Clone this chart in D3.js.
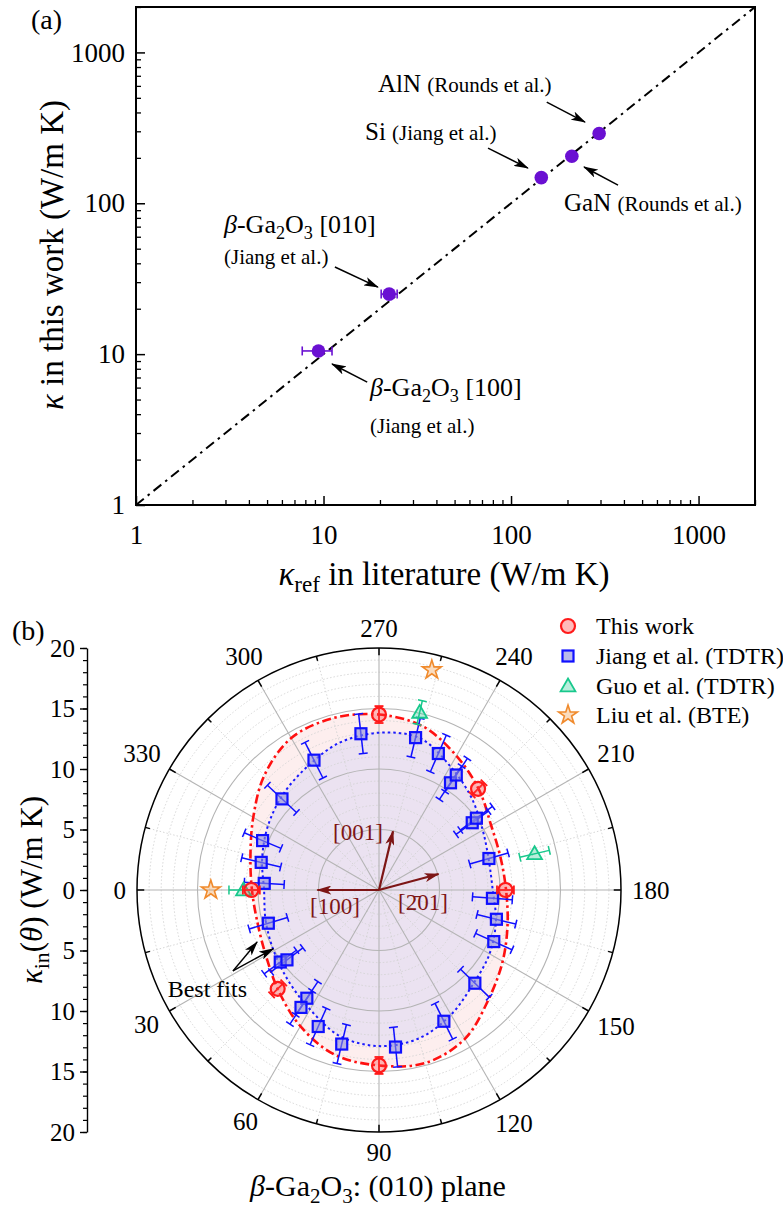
<!DOCTYPE html>
<html>
<head>
<meta charset="utf-8">
<script src="https://cdn.jsdelivr.net/npm/d3@7"></script>
<style>
  body { margin: 0; background: #fff; }
  svg text { font-family: "Liberation Serif", "Times New Roman", serif; fill: #000; }
</style>
</head>
<body>
<div id="plot"></div>
<script>
// ---------- panel (a): kappa in this work vs literature ----------
const matNames = ["b100", "b010", "Si", "GaN", "AlN"];
const kRef   = [9.4, 22.4, 145, 211, 295];
const kRefLo = [7.7, 20.3, 145, 211, 295];
const kRefHi = [11.1, 24.7, 145, 211, 295];
const kThis  = [10.5, 25, 148, 205, 290];
const logMajor = [1, 10, 100, 1000];
const parity = [1, 2000];

// ---------- panel (b): polar in-plane conductivity ----------
const angleLabels = [0, 30, 60, 90, 120, 150, 180, 210, 240, 270, 300, 330];
const radTicks = [-20, -15, -10, -5, 0, 5, 10, 15, 20];

const thisTheta = [0, 44.3, 90, 180, 225.6, 270];
const thisK     = [10.55, 11.7, 14.5, 10.45, 11.7, 14.5];
const thisErr   = [0.7, 0.7, 0.7, 0.7, 0.7, 0.7];

const jiangTheta = [276.6, 296.6, 316.8, 337, 346.8, 356.7, 16.7, 36.1, 37.2, 56.3, 56.4, 66, 76.4,
                    96, 116.3, 135.8, 155.8, 166, 175.8, 196, 215.8, 216.4, 236.3, 236.1, 246.5, 256.5];
const jiangK     = [13.0, 12.0, 11.0, 10.45, 10.0, 9.5, 9.55, 10.1, 9.55, 10.75, 11.65, 12.35, 13.1,
                    13.05, 12.1, 11.05, 10.4, 10.0, 9.4, 9.45, 9.5, 10.0, 10.65, 11.45, 12.3, 12.95];
const jiangErr   = 1.65;

const guoTheta = [0, 193.1, 257.1];
const guoK     = [11.2, 13.2, 15.05];
const guoErr   = [1.2, 1.25, 1.0];

const liuTheta = [0, 256.5];
const liuK     = [13.9, 18.7];

// best-fit curves read every 15 degrees
const fitTheta = [0, 15, 30, 45, 60, 75, 90, 105, 120, 135, 150, 165,
                  180, 195, 210, 225, 240, 255, 270, 285, 300, 315, 330, 345];
const fitRed   = [10.5, 10.4, 10.8, 11.75, 13.0, 14.1, 14.5, 14.8, 14.2, 12.8, 11.8, 11.0,
                  10.5, 10.4, 10.7, 11.7, 12.8, 14.0, 14.5, 14.7, 14.5, 13.4, 12.0, 11.0];
const fitBlue  = [9.5, 9.7, 10.05, 10.6, 11.4, 12.5, 12.9, 12.7, 11.9, 11.0, 10.55, 10.0,
                  9.4, 9.4, 9.9, 10.8, 11.8, 13.0, 13.0, 12.6, 11.8, 11.2, 10.6, 10.0];

const dirNames = ["[100]", "[001]", "[2\u030401]"];
const dirTheta = [0, 256.6, 195];
const dirLen   = [5.1, 5.0, 5.1];

const legendNames = ["This work", "Jiang et al. (TDTR)", "Guo et al. (TDTR)", "Liu et al. (BTE)"];

const W = 783, H = 1210;
const svg = d3.select("#plot").append("svg").attr("width", W).attr("height", H);

const defs = svg.append("defs");
function arrowMarker(id, color, w, h) {
  defs.append("marker").attr("id", id)
    .attr("viewBox", `0 0 ${w} ${h}`).attr("refX", w - 1).attr("refY", h / 2)
    .attr("markerWidth", w).attr("markerHeight", h)
    .attr("markerUnits", "userSpaceOnUse").attr("orient", "auto")
    .append("path")
    .attr("d", `M0,0 L${w},${h / 2} L0,${h} L${w * 0.25},${h / 2} Z`)
    .attr("fill", color);
}
arrowMarker("arrK", "#000", 15, 9);
arrowMarker("arrR", "#7d1515", 15, 9);

// text with italic / sub parts
function rich(g, x, y, size, parts, anchor) {
  const t = g.append("text").attr("x", x).attr("y", y)
    .attr("font-size", size).attr("text-anchor", anchor || "start");
  let shift = 0;
  parts.forEach(p => {
    const s = p.sub ? 0.22 * size : 0;
    const ts = t.append("tspan").text(p.t).attr("dy", s - shift);
    if (p.sub) ts.attr("font-size", size * 0.7);
    if (p.size) ts.attr("font-size", p.size);
    if (p.i) ts.attr("font-style", "italic");
    shift = s;
  });
  return t;
}

// ================= panel (a) =================
const ax = {left: 136, right: 755, top: 7, bottom: 505};
const x = d3.scaleLog().domain([1, 2000]).range([ax.left, ax.right]);
const y = d3.scaleLog().domain([1, 2000]).range([ax.bottom, ax.top]);

const ga = svg.append("g");
const logMinor = [];
[1, 10, 100, 1000].forEach(d => { for (let k = 2; k <= 9; k++) if (d * k <= 2000) logMinor.push(d * k); });

// minor ticks
ga.append("g").attr("transform", `translate(0,${ax.bottom})`)
  .call(d3.axisBottom(x).tickValues(logMinor).tickSize(-5).tickFormat("").tickSizeOuter(0))
  .call(g => g.select(".domain").remove())
  .selectAll("line").attr("stroke-width", 1.3);
ga.append("g").attr("transform", `translate(${ax.left},0)`)
  .call(d3.axisLeft(y).tickValues(logMinor).tickSize(-5).tickFormat("").tickSizeOuter(0))
  .call(g => g.select(".domain").remove())
  .selectAll("line").attr("stroke-width", 1.3);

// major ticks and labels
const xa = ga.append("g").attr("transform", `translate(0,${ax.bottom})`)
  .call(d3.axisBottom(x).tickValues(logMajor).tickSize(-9).tickPadding(20).tickFormat(d3.format("d")).tickSizeOuter(0));
const ya = ga.append("g").attr("transform", `translate(${ax.left},0)`)
  .call(d3.axisLeft(y).tickValues(logMajor).tickSize(-9).tickPadding(11).tickFormat(d3.format("d")).tickSizeOuter(0));
[xa, ya].forEach(a => {
  a.select(".domain").remove();
  a.selectAll("line").attr("stroke-width", 1.5);
  a.selectAll("text").attr("font-size", 27);
});

// frame
ga.append("rect").attr("x", ax.left).attr("y", ax.top)
  .attr("width", ax.right - ax.left).attr("height", ax.bottom - ax.top)
  .attr("fill", "none").attr("stroke", "#000").attr("stroke-width", 2);

// y = x line
ga.append("path")
  .attr("d", d3.line().x(d => x(d)).y(d => y(d))(parity))
  .attr("stroke", "#000").attr("stroke-width", 2).attr("fill", "none")
  .attr("stroke-dasharray", "10,5,2.5,5");

// error bars + points
const purple = "#6a10d2";
kRef.forEach((v, i) => {
  if (kRefHi[i] > kRefLo[i]) {
    const yy = y(kThis[i]);
    ga.append("line").attr("x1", x(kRefLo[i])).attr("x2", x(kRefHi[i]))
      .attr("y1", yy).attr("y2", yy).attr("stroke", purple).attr("stroke-width", 1.6);
    [kRefLo[i], kRefHi[i]].forEach(e => ga.append("line")
      .attr("x1", x(e)).attr("x2", x(e)).attr("y1", yy - 4.5).attr("y2", yy + 4.5)
      .attr("stroke", purple).attr("stroke-width", 1.6));
  }
});
ga.selectAll("circle.pt").data(matNames).join("circle")
  .attr("cx", (d, i) => x(kRef[i])).attr("cy", (d, i) => y(kThis[i]))
  .attr("r", 6.8).attr("fill", purple);

// annotations
function arrowA(x1, y1, x2, y2) {
  ga.append("line").attr("x1", x(x1)).attr("y1", y(y1)).attr("x2", x(x2)).attr("y2", y(y2))
    .attr("stroke", "#000").attr("stroke-width", 1.5).attr("marker-end", "url(#arrK)");
}
arrowA(155, 468, 248, 345);    // AlN
arrowA(75.4, 232, 123, 171);   // Si
arrowA(372, 132, 245, 174);    // GaN
arrowA(11.5, 37.8, 19.5, 27.8); // b-Ga2O3 [010]
arrowA(17.1, 6.53, 11.1, 8.6);  // b-Ga2O3 [100]

rich(ga, 378, 92, 25, [{t: "AlN "}, {t: "(Rounds et al.)", size: 21}]);
rich(ga, 365, 140, 25, [{t: "Si "}, {t: "(Jiang et al.)", size: 21}]);
rich(ga, 564, 211, 25, [{t: "GaN "}, {t: "(Rounds et al.)", size: 21}]);
const gaParts = d => [{t: "\u03B2", i: true}, {t: "-Ga"}, {t: "2", sub: true}, {t: "O"}, {t: "3", sub: true}, {t: " " + d}];
rich(ga, 224, 233, 26, gaParts("[010]"));
rich(ga, 224, 264, 21, [{t: "(Jiang et al.)"}]);
rich(ga, 370, 396, 26, gaParts("[100]"));
rich(ga, 370, 433, 21, [{t: "(Jiang et al.)"}]);

// axis titles
rich(ga, 0, 0, 33, [{t: "\u03BA", i: true}, {t: " in this work (W/m K)"}], "middle")
  .attr("transform", "translate(63,255) rotate(-90)");
rich(ga, 444, 585, 33, [{t: "\u03BA", i: true}, {t: "ref", sub: true}, {t: " in literature (W/m K)"}], "middle");
ga.append("text").attr("x", 31).attr("y", 29).attr("font-size", 28).text("(a)");

// ================= panel (b) =================
const cx = 379, cy = 890;
const rS = d3.scaleLinear().domain([0, 20]).range([0, 242]);
const gb = svg.append("g");

function pol(theta, r) {
  const a = theta * Math.PI / 180;
  return [cx - rS(r) * Math.cos(a), cy + rS(r) * Math.sin(a)];
}
const closed = d3.line().curve(d3.curveCatmullRomClosed);

// shaded areas under the fits
gb.append("path").attr("d", closed(fitTheta.map((t, i) => pol(t, fitRed[i]))))
  .attr("fill", "#fdeeee");
gb.append("path").attr("d", closed(fitTheta.map((t, i) => pol(t, fitBlue[i]))))
  .attr("fill", "#ebe2f1");

// grid circles
d3.range(1, 20).forEach(r => {
  const major = r % 5 === 0;
  gb.append("circle").attr("cx", cx).attr("cy", cy).attr("r", rS(r)).attr("fill", "none")
    .attr("stroke", major ? "#b4b4b4" : "#d2d2d2")
    .attr("stroke-width", major ? 1.1 : 0.9)
    .attr("stroke-dasharray", major ? null : "1.5,2");
});
// radial grid
d3.range(0, 360, 15).forEach(t => {
  const major = t % 30 === 0;
  const p0 = pol(t, major ? 0 : 1), p1 = pol(t, 20);
  gb.append("line").attr("x1", p0[0]).attr("y1", p0[1]).attr("x2", p1[0]).attr("y2", p1[1])
    .attr("stroke", major ? "#b4b4b4" : "#d2d2d2")
    .attr("stroke-width", major ? 1.1 : 0.9)
    .attr("stroke-dasharray", major ? null : "1.5,2");
});
// outer circle and ticks
gb.append("circle").attr("cx", cx).attr("cy", cy).attr("r", rS(20))
  .attr("fill", "none").attr("stroke", "#000").attr("stroke-width", 1.5);
d3.range(0, 360, 15).forEach(t => {
  const major = t % 30 === 0;
  const p0 = pol(t, 20), p1 = pol(t, 20 - (major ? 0.6 : 0.4));
  gb.append("line").attr("x1", p0[0]).attr("y1", p0[1]).attr("x2", p1[0]).attr("y2", p1[1])
    .attr("stroke", "#000").attr("stroke-width", 1.5);
});
// angle labels
angleLabels.forEach(t => {
  const a = t * Math.PI / 180;
  const w = String(t).length * 12.5, h = 18;
  const rr = 253 + Math.abs(Math.cos(a)) * w / 2 + Math.abs(Math.sin(a)) * h / 2;
  gb.append("text").attr("x", cx - rr * Math.cos(a)).attr("y", cy + rr * Math.sin(a) + 8.5)
    .attr("text-anchor", "middle").attr("font-size", 25).text(t);
});

// fit curves
gb.append("path").attr("d", closed(fitTheta.map((t, i) => pol(t, fitBlue[i]))))
  .attr("fill", "none").attr("stroke", "#1a1aff").attr("stroke-width", 2)
  .attr("stroke-dasharray", "2.5,3");
gb.append("path").attr("d", closed(fitTheta.map((t, i) => pol(t, fitRed[i]))))
  .attr("fill", "none").attr("stroke", "#ff1010").attr("stroke-width", 2.6)
  .attr("stroke-dasharray", "9,3.5,2.5,3.5");

// radial error bar with caps
function errBar(theta, r, e, color, w) {
  const a = theta * Math.PI / 180;
  const p0 = pol(theta, r - e), p1 = pol(theta, r + e);
  const px = Math.sin(a) * 4.5, py = Math.cos(a) * 4.5;
  gb.append("line").attr("x1", p0[0]).attr("y1", p0[1]).attr("x2", p1[0]).attr("y2", p1[1])
    .attr("stroke", color).attr("stroke-width", w);
  [p0, p1].forEach(p => gb.append("line")
    .attr("x1", p[0] - px).attr("y1", p[1] - py).attr("x2", p[0] + px).attr("y2", p[1] + py)
    .attr("stroke", color).attr("stroke-width", w));
}

const blue = "#1010ff", red = "#ff1a1a", green = "#18c88c", orange = "#f08a2c";

jiangTheta.forEach((t, i) => errBar(t, jiangK[i], jiangErr, blue, 1.5));
jiangTheta.forEach((t, i) => {
  const p = pol(t, jiangK[i]);
  gb.append("rect").attr("x", p[0] - 5.5).attr("y", p[1] - 5.5).attr("width", 11).attr("height", 11)
    .attr("fill", "rgba(140,140,220,0.6)").attr("stroke", blue).attr("stroke-width", 2.2);
});

guoTheta.forEach((t, i) => errBar(t, guoK[i], guoErr[i], green, 1.5));
const triSym = d3.symbol(d3.symbolTriangle, 95)();
guoTheta.forEach((t, i) => {
  const p = pol(t, guoK[i]);
  gb.append("path").attr("d", triSym).attr("transform", `translate(${p[0]},${p[1] + 1})`)
    .attr("fill", "rgba(24,200,140,0.3)").attr("stroke", green).attr("stroke-width", 1.8);
});

const starSym = d3.symbol(d3.symbolStar, 110)();
liuTheta.forEach((t, i) => {
  const p = pol(t, liuK[i]);
  gb.append("path").attr("d", starSym).attr("transform", `translate(${p[0]},${p[1]})`)
    .attr("fill", "rgba(240,138,44,0.3)").attr("stroke", orange).attr("stroke-width", 1.6);
});

thisTheta.forEach((t, i) => errBar(t, thisK[i], thisErr[i], red, 1.8));
thisTheta.forEach((t, i) => {
  const p = pol(t, thisK[i]);
  gb.append("circle").attr("cx", p[0]).attr("cy", p[1]).attr("r", 7)
    .attr("fill", "rgba(255,60,60,0.35)").attr("stroke", red).attr("stroke-width", 2.2);
});

// crystal direction arrows
const dirLabelPos = [[335, 914], [358, 840], [423, 910]];
dirTheta.forEach((t, i) => {
  const p = pol(t, dirLen[i]);
  gb.append("line").attr("x1", cx).attr("y1", cy).attr("x2", p[0]).attr("y2", p[1])
    .attr("stroke", "#7d1515").attr("stroke-width", 2.2).attr("marker-end", "url(#arrR)");
  gb.append("text").attr("x", dirLabelPos[i][0]).attr("y", dirLabelPos[i][1])
    .attr("text-anchor", "middle").attr("font-size", 23).style("fill", "#7d1515")
    .text(dirNames[i]);
});

// "Best fits" annotation
const bfStart = pol(29, 13.8);
[[23.1, 10.95], [29.1, 10.0]].forEach(d => {
  const p = pol(d[0], d[1]);
  gb.append("line").attr("x1", bfStart[0]).attr("y1", bfStart[1]).attr("x2", p[0]).attr("y2", p[1])
    .attr("stroke", "#000").attr("stroke-width", 1.4).attr("marker-end", "url(#arrK)");
});
gb.append("text").attr("x", 247).attr("y", 997).attr("text-anchor", "end")
  .attr("font-size", 24).text("Best fits");

// radial axis on the left
const yL = d3.scaleLinear().domain([20, -20]).range([cy - rS(20), cy + rS(20)]);
gb.append("g").attr("transform", "translate(87,0)")
  .call(d3.axisLeft(yL).tickValues(d3.range(-20, 21)).tickSize(4).tickFormat("").tickSizeOuter(0))
  .call(g => g.select(".domain").remove())
  .selectAll("line").attr("stroke-width", 1.2);
const la = gb.append("g").attr("transform", "translate(87,0)")
  .call(d3.axisLeft(yL).tickValues(radTicks).tickSize(7).tickPadding(5)
    .tickFormat(d => Math.abs(d)).tickSizeOuter(0));
la.select(".domain").attr("stroke-width", 1.4);
la.selectAll("line").attr("stroke-width", 1.4);
la.selectAll("text").attr("font-size", 25);

rich(gb, 0, 0, 31, [{t: "\u03BA", i: true}, {t: "in", sub: true}, {t: "("}, {t: "\u03B8", i: true}, {t: ") (W/m K)"}], "middle")
  .attr("transform", "translate(42,890) rotate(-90)");
rich(gb, 378, 1196, 30, [{t: "\u03B2", i: true}, {t: "-Ga"}, {t: "2", sub: true}, {t: "O"}, {t: "3", sub: true}, {t: ": (010) plane"}], "middle");
gb.append("text").attr("x", 12).attr("y", 640).attr("font-size", 28).text("(b)");

// legend
const lg = gb.append("g");
const legY = [626, 656, 686, 715];
legendNames.forEach((name, i) => {
  const mx = 568, my = legY[i];
  if (i === 0) lg.append("circle").attr("cx", mx).attr("cy", my).attr("r", 7)
    .attr("fill", "rgba(255,60,60,0.35)").attr("stroke", red).attr("stroke-width", 2.2);
  if (i === 1) lg.append("rect").attr("x", mx - 5.5).attr("y", my - 5.5).attr("width", 11).attr("height", 11)
    .attr("fill", "rgba(140,140,220,0.6)").attr("stroke", blue).attr("stroke-width", 2.2);
  if (i === 2) lg.append("path").attr("d", triSym).attr("transform", `translate(${mx},${my + 1})`)
    .attr("fill", "rgba(24,200,140,0.3)").attr("stroke", green).attr("stroke-width", 1.8);
  if (i === 3) lg.append("path").attr("d", starSym).attr("transform", `translate(${mx},${my})`)
    .attr("fill", "rgba(240,138,44,0.3)").attr("stroke", orange).attr("stroke-width", 1.6);
  lg.append("text").attr("x", 596).attr("y", my + 8).attr("font-size", 24).text(name);
});
</script>
</body>
</html>
